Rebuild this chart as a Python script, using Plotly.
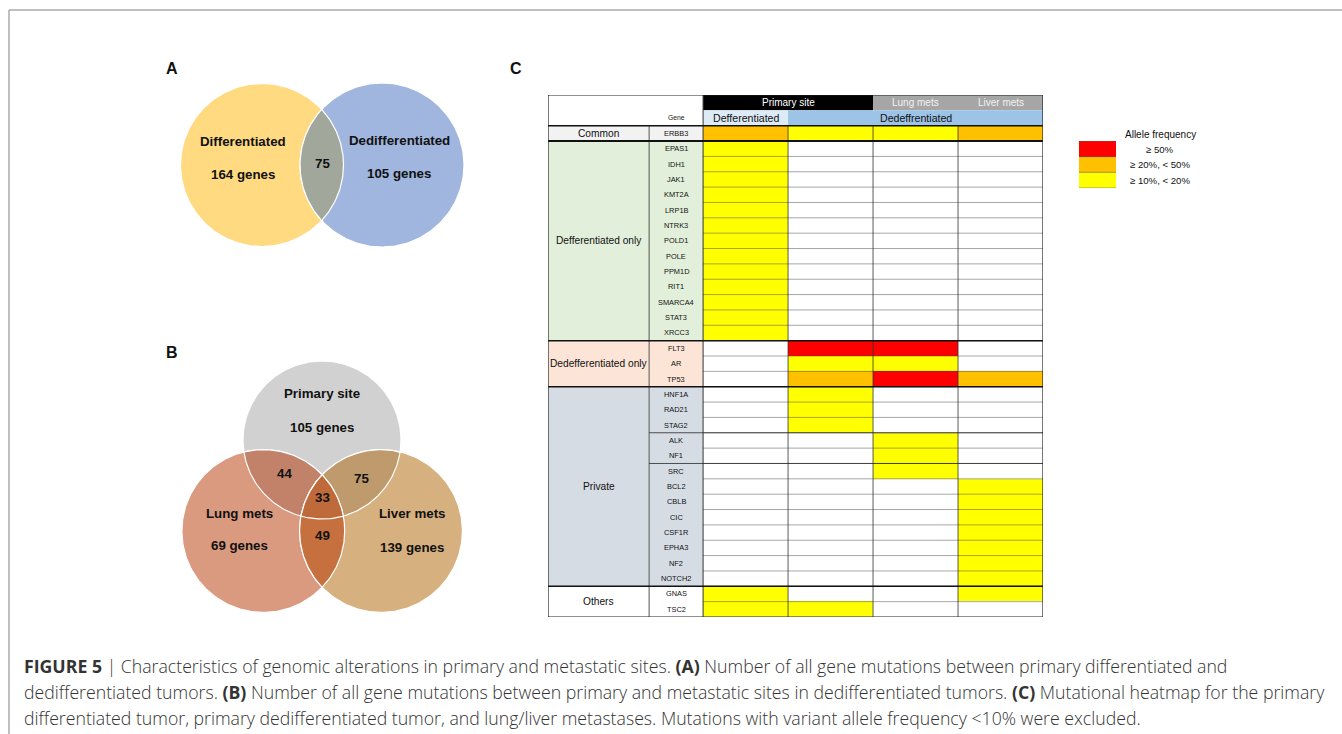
import numpy as np
import plotly.graph_objects as go

W, H = 1342, 734

# ---------------- DATA ----------------
genes = ["ERBB3",
         "EPAS1", "IDH1", "JAK1", "KMT2A", "LRP1B", "NTRK3", "POLD1", "POLE",
         "PPM1D", "RIT1", "SMARCA4", "STAT3", "XRCC3",
         "FLT3", "AR", "TP53",
         "HNF1A", "RAD21", "STAG2", "ALK", "NF1", "SRC", "BCL2", "CBLB", "CIC",
         "CSF1R", "EPHA3", "NF2", "NOTCH2",
         "GNAS", "TSC2"]
groups = ["Common", "Defferentiated only", "Dedefferentiated only", "Private", "Others"]
group_sizes = [1, 13, 3, 13, 2]
group_colors = ["#F2F2F2", "#E2EFDA", "#FCE4D6", "#D6DCE4", "#FFFFFF"]
subgroup_breaks_after = ["STAG2", "NF1"]

# allele-frequency class: 0 none, 1 >=10%<20%, 2 >=20%<50%, 3 >=50%
primary_differentiated = [2, 1, 1, 1, 1, 1, 1, 1, 1, 1, 1, 1, 1, 1, 0, 0, 0,
                          0, 0, 0, 0, 0, 0, 0, 0, 0, 0, 0, 0, 0, 1, 1]
primary_dedifferentiated = [1, 0, 0, 0, 0, 0, 0, 0, 0, 0, 0, 0, 0, 0, 3, 1, 2,
                            1, 1, 1, 0, 0, 0, 0, 0, 0, 0, 0, 0, 0, 0, 1]
lung_mets = [1, 0, 0, 0, 0, 0, 0, 0, 0, 0, 0, 0, 0, 0, 3, 1, 3,
             0, 0, 0, 1, 1, 1, 0, 0, 0, 0, 0, 0, 0, 0, 0]
liver_mets = [2, 0, 0, 0, 0, 0, 0, 0, 0, 0, 0, 0, 0, 0, 0, 0, 2,
              0, 0, 0, 0, 0, 0, 1, 1, 1, 1, 1, 1, 1, 1, 0]

level_colors = ["#FFFFFF", "#FFFF00", "#FFC000", "#FF0000"]
legend_levels = [3, 2, 1]
legend_labels = ["≥ 50%", "≥ 20%, < 50%", "≥ 10%, < 20%"]

venn_a_labels = ["Differentiated", "Dedifferentiated"]
venn_a_counts = ["164 genes", "105 genes"]
venn_a_overlap = "75"
venn_b_labels = ["Primary site", "Lung mets", "Liver mets"]
venn_b_counts = ["105 genes", "69 genes", "139 genes"]
venn_b_pairs = {"primary_lung": "44", "primary_liver": "75", "lung_liver": "49", "all": "33"}

caption_lines = [
    "<b>FIGURE 5</b> | Characteristics of genomic alterations in primary and metastatic sites. <b>(A)</b> Number of all gene mutations between primary differentiated and",
    "dedifferentiated tumors. <b>(B)</b> Number of all gene mutations between primary and metastatic sites in dedifferentiated tumors. <b>(C)</b> Mutational heatmap for the primary",
    "differentiated tumor, primary dedifferentiated tumor, and lung/liver metastases. Mutations with variant allele frequency <10% were excluded.",
]

FONT = "Liberation Sans, Arial, sans-serif"
CAP_FONT = "Open Sans, Liberation Sans, sans-serif"

fig = go.Figure()
shapes = []
annots = []

# ---------------- helpers for Venn ----------------
def circle(cx, cy, r, n=240):
    t = np.linspace(0, 2 * np.pi, n, endpoint=False)
    return list(zip(cx + r * np.cos(t), cy + r * np.sin(t)))

def _inside(p, a, b):
    return (b[0] - a[0]) * (p[1] - a[1]) - (b[1] - a[1]) * (p[0] - a[0]) >= 0

def _inter(s, e, a, b):
    x1, y1 = s; x2, y2 = e; x3, y3 = a; x4, y4 = b
    den = (x1 - x2) * (y3 - y4) - (y1 - y2) * (x3 - x4)
    t = ((x1 - x3) * (y3 - y4) - (y1 - y3) * (x3 - x4)) / den
    return (x1 + t * (x2 - x1), y1 + t * (y2 - y1))

def clip(subject, clipper):
    out = list(subject)
    n = len(clipper)
    for i in range(n):
        a, b = clipper[i], clipper[(i + 1) % n]
        inp, out = out, []
        if not inp:
            break
        s = inp[-1]
        for e in inp:
            if _inside(e, a, b):
                if not _inside(s, a, b):
                    out.append(_inter(s, e, a, b))
                out.append(e)
            elif _inside(s, a, b):
                out.append(_inter(s, e, a, b))
            s = e
    return out

def add_poly(pts, color, lw=1.2):
    xs = [p[0] for p in pts] + [pts[0][0]]
    ys = [p[1] for p in pts] + [pts[0][1]]
    fig.add_trace(go.Scatter(x=xs, y=ys, mode="lines", fill="toself",
                             fillcolor=color, line=dict(color="white", width=lw),
                             hoverinfo="skip", showlegend=False, xaxis="x", yaxis="y"))

def txt(x, y, s, size=12, bold=True, color="#111", xref="x", yref="y", xanchor="center", family=FONT):
    annots.append(dict(x=x, y=y, xref=xref, yref=yref, text=(f"<b>{s}</b>" if bold else s),
                       showarrow=False, xanchor=xanchor, yanchor="middle",
                       font=dict(size=size, color=color, family=family)))

VS = 13.3  # venn text size

# ---------------- Venn A ----------------
cA1 = circle(262, 165, 81.5)
cA2 = circle(382, 165, 82)
add_poly(cA1, "#FFDA80")
add_poly(cA2, "#A0B6DE")
add_poly(clip(cA1, cA2), "#A1A79B")
txt(243, 141, venn_a_labels[0], size=VS)
txt(243, 174, venn_a_counts[0], size=VS)
txt(322, 163, venn_a_overlap, size=VS)
txt(399, 140, venn_a_labels[1], size=VS)
txt(399, 173, venn_a_counts[1], size=VS)

# ---------------- Venn B ----------------
cP = circle(322, 440, 79)
cL = circle(263.3, 531, 81.4)
cV = circle(381, 531, 81.4)
add_poly(cP, "#D1D1D1")
add_poly(cL, "#D99A80")
add_poly(cV, "#D6B07E")
add_poly(clip(cP, cL), "#C2826A")
add_poly(clip(cP, cV), "#BE9A6C")
add_poly(clip(cL, cV), "#C6703F")
add_poly(clip(clip(cP, cL), cV), "#BE6A3A")
txt(322, 393, venn_b_labels[0], size=VS)
txt(322, 427, venn_b_counts[0], size=VS)
txt(239, 513, venn_b_labels[1], size=VS)
txt(239, 545, venn_b_counts[1], size=VS)
txt(412, 513, venn_b_labels[2], size=VS)
txt(412, 547, venn_b_counts[2], size=VS)
txt(284, 473, venn_b_pairs["primary_lung"], size=VS)
txt(361, 478, venn_b_pairs["primary_liver"], size=VS)
txt(322, 497, venn_b_pairs["all"], size=VS)
txt(322, 535, venn_b_pairs["lung_liver"], size=VS)

# panel labels
txt(172, 68, "A", size=16)
txt(172, 352, "B", size=16)
txt(516, 68, "C", size=16)

# ---------------- Heatmap C ----------------
z = np.array([primary_differentiated, primary_dedifferentiated, lung_mets, liver_mets]).T
cs = [[0, level_colors[0]], [1 / 6, level_colors[0]], [1 / 6, level_colors[1]], [0.5, level_colors[1]],
      [0.5, level_colors[2]], [5 / 6, level_colors[2]], [5 / 6, level_colors[3]], [1, level_colors[3]]]
n = len(genes)
fig.add_trace(go.Heatmap(x=[0, 1, 2, 3], y=list(range(n)), z=z, colorscale=cs, zmin=0, zmax=3,
                         showscale=False, hoverinfo="skip", xaxis="x2", yaxis="y2"))

XG0, XG1 = -2.325, -1.135   # group label column
XD0, XD1 = -0.5, 3.5        # data columns

def rect2(x0, x1, y0, y1, fill, line=None, lw=0):
    shapes.append(dict(type="rect", xref="x2", yref="y2", x0=x0, x1=x1, y0=y0, y1=y1,
                       fillcolor=fill, line=dict(width=lw, color=line or fill), layer="below"))

def line2(x0, x1, y0, y1, color, w):
    shapes.append(dict(type="line", xref="x2", yref="y2", x0=x0, x1=x1, y0=y0, y1=y1,
                       line=dict(color=color, width=w), layer="above"))

# group backgrounds + labels
start = 0
group_bounds = []
for g, sz, col in zip(groups, group_sizes, group_colors):
    rect2(XG0, XD0, start - 0.5, start + sz - 0.5, col)
    txt((XG0 + XG1) / 2, start + (sz - 1) / 2, g, size=10.2,
        bold=False, xref="x2", yref="y2", color="#111")
    start += sz
    group_bounds.append(start - 0.5)

# gene names
for i, gname in enumerate(genes):
    txt((XG1 + XD0) / 2, i, gname, size=7.4, bold=False, xref="x2", yref="y2", color="#111")

# headers
rect2(XG0, XD0, -2.5, -0.5, "#FFFFFF")
rect2(-0.5, 1.5, -2.5, -1.5, "#000000")
rect2(1.5, 3.5, -2.5, -1.5, "#A6A6A6")
rect2(-0.5, 0.5, -1.5, -0.5, "#DDEBF7")
rect2(0.5, 3.5, -1.5, -0.5, "#9DC3E6")
txt(0.5, -2, "Primary site", size=10, bold=False, xref="x2", yref="y2", color="#FFFFFF")
txt(2, -2, "Lung mets", size=10, bold=False, xref="x2", yref="y2", color="#F2F2F2")
txt(3, -2, "Liver mets", size=10, bold=False, xref="x2", yref="y2", color="#F2F2F2")
txt(0, -1, "Defferentiated", size=10.6, bold=False, xref="x2", yref="y2")
txt(2, -1, "Dedeffrentiated", size=10.6, bold=False, xref="x2", yref="y2")
txt((XG1 + XD0) / 2, -1.05, "Gene", size=6.8, bold=False, xref="x2", yref="y2", color="#222")

# row grid lines in data area
for i in range(n - 1):
    line2(XD0, XD1, i + 0.5, i + 0.5, "rgba(60,60,60,0.45)", 1)
# column lines
for xc in (0.5, 1.5, 2.5):
    line2(xc, xc, -0.5, n - 0.5, "rgba(50,50,50,0.8)", 1)
line2(XD0, XD0, -2.5, n - 0.5, "#333333", 1)
line2(XG1, XG1, -0.5, n - 0.5, "#555555", 1)
# subgroup lines in gene column
for gname in subgroup_breaks_after:
    k = genes.index(gname)
    line2(XG1, XD1, k + 0.5, k + 0.5, "rgba(40,40,40,0.8)", 1)
# group separators
line2(XG0, XD1, -0.5, -0.5, "#111111", 1.5)
for b in group_bounds[:-1]:
    line2(XG0, XD1, b, b, "#111111", 2 if b == 0.5 else 1.5)
# outer border
shapes.append(dict(type="rect", xref="x2", yref="y2", x0=XG0, x1=XD1, y0=-2.5, y1=n - 0.5,
                   line=dict(color="#222222", width=1.2), layer="above"))

# ---------------- Legend ----------------
fig.add_trace(go.Heatmap(x=[0], y=[0, 1, 2], z=[[v] for v in legend_levels], colorscale=cs, zmin=0, zmax=3,
                         showscale=False, hoverinfo="skip", xaxis="x3", yaxis="y3"))
for k in range(4):
    shapes.append(dict(type="line", xref="x3", yref="y3", x0=-0.5, x1=0.5, y0=k - 0.5, y1=k - 0.5,
                       line=dict(color="rgba(90,90,90,0.6)", width=1), layer="above"))
txt(1160, 134, "Allele frequency", size=10, bold=False, color="#111")
for k, lab in enumerate(legend_labels):
    txt(1160, 149 + k * 15.5, lab, size=9.6, bold=False, color="#111")

# ---------------- Caption ----------------
for k, line in enumerate(caption_lines):
    annots.append(dict(x=22, y=666 + k * 26, xref="x", yref="y", text=line, showarrow=False,
                       xanchor="left", yanchor="middle",
                       font=dict(size=17.7, color="#333333", family=CAP_FONT, weight=300)))

# frame lines
shapes.append(dict(type="line", xref="paper", yref="paper", x0=9 / W, x1=1, y0=1 - 10 / H, y1=1 - 10 / H,
                   line=dict(color="#AAAAAA", width=1.5)))
shapes.append(dict(type="line", xref="paper", yref="paper", x0=9 / W, x1=9 / W, y0=0, y1=1 - 10 / H,
                   line=dict(color="#AAAAAA", width=1.5)))

fig.update_layout(
    width=W, height=H, autosize=False,
    margin=dict(l=0, r=0, t=0, b=0),
    paper_bgcolor="white", plot_bgcolor="rgba(0,0,0,0)",
    showlegend=False,
    xaxis=dict(domain=[0, 1], range=[0, W], visible=False, fixedrange=True),
    yaxis=dict(domain=[0, 1], range=[H, 0], visible=False, fixedrange=True),
    xaxis2=dict(domain=[548 / W, 1043 / W], range=[XG0, XD1], visible=False, anchor="y2", fixedrange=True),
    yaxis2=dict(domain=[1 - 617 / H, 1 - 95 / H], range=[n - 0.5, -2.5], visible=False, anchor="x2", fixedrange=True),
    xaxis3=dict(domain=[1079 / W, 1116 / W], range=[-0.5, 0.5], visible=False, anchor="y3", fixedrange=True),
    yaxis3=dict(domain=[1 - 188 / H, 1 - 141 / H], range=[2.5, -0.5], visible=False, anchor="x3", fixedrange=True),
    shapes=shapes, annotations=annots,
)

fig.write_html("out.html", config={"displayModeBar": False},
               post_script="document.body.style.margin='0';document.body.style.overflow='hidden';")
